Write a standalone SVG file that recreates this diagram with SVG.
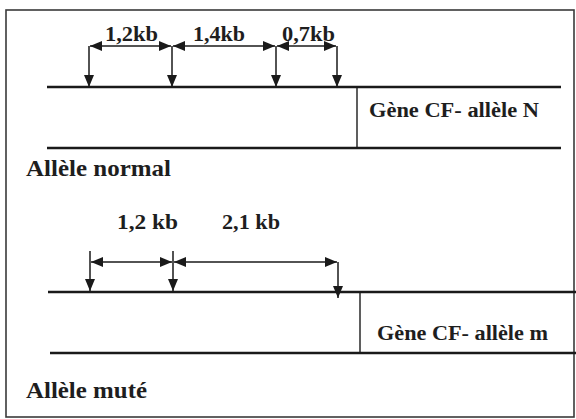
<svg xmlns="http://www.w3.org/2000/svg" width="576" height="419" viewBox="0 0 576 419">
  <defs>
    <marker id="tri" viewBox="0 0 12 10" refX="12" refY="5" markerWidth="12" markerHeight="10" markerUnits="userSpaceOnUse" orient="auto-start-reverse">
      <path d="M0,0 L12,5 L0,10 z" fill="#1a1a1a"/>
    </marker>
    <style>
      .frame { fill: #ffffff; stroke: #3a3a3a; stroke-width: 1.6; }
      .dna { stroke: #1a1a1a; stroke-width: 2.6; fill: none; }
      .sep { stroke: #1a1a1a; stroke-width: 1.4; fill: none; }
      .tick { stroke: #1a1a1a; stroke-width: 1.5; fill: none; marker-end: url(#tri); }
      .dim { stroke: #1a1a1a; stroke-width: 1.5; fill: none; marker-start: url(#tri); marker-end: url(#tri); }
      .lbl { font-family: "Liberation Serif", "Times New Roman", serif; font-weight: bold; fill: #1e1e1e; }
      .s19 { font-size: 20px; }
      .s22 { font-size: 23px; }
    </style>
  </defs>

  <rect class="frame" x="6" y="10" width="568" height="407"/>

  <!-- normal allele -->
  <g id="allele-normal">
    <line class="dna" x1="47" y1="87" x2="561" y2="87"/>
    <line class="dna" x1="47" y1="148" x2="561" y2="148"/>
    <line class="sep" x1="357" y1="87" x2="357" y2="148"/>
    <text class="lbl s19" x="369" y="117" textLength="170" lengthAdjust="spacingAndGlyphs">Gène CF- allèle N</text>
    <text class="lbl s22" x="26" y="176" textLength="145" lengthAdjust="spacingAndGlyphs">Allèle normal</text>
  </g>

  <!-- mutated allele -->
  <g id="allele-mute">
    <line class="dna" x1="48" y1="292" x2="576" y2="292"/>
    <line class="dna" x1="50" y1="353" x2="576" y2="353"/>
    <line class="sep" x1="360" y1="292" x2="360" y2="353"/>
    <text class="lbl s19" x="377" y="340" textLength="171" lengthAdjust="spacingAndGlyphs">Gène CF- allèle m</text>
    <text class="lbl s22" x="26" y="398" textLength="121" lengthAdjust="spacingAndGlyphs">Allèle muté</text>
  </g>

  <!-- restriction sites and fragment lengths -->
  <g id="connectors">
    <!-- normal allele sites -->
    <line class="tick" x1="89" y1="46" x2="89" y2="87"/>
    <line class="tick" x1="172" y1="46" x2="172" y2="87"/>
    <line class="tick" x1="276" y1="46" x2="276" y2="87"/>
    <line class="tick" x1="337" y1="46" x2="337" y2="87"/>
    <line class="dim" x1="90" y1="46" x2="171" y2="46"/>
    <line class="dim" x1="173" y1="46" x2="275" y2="46"/>
    <line class="dim" x1="277" y1="46" x2="336" y2="46"/>

    <!-- mutated allele sites -->
    <line class="tick" x1="90" y1="251" x2="90" y2="291"/>
    <line class="tick" x1="173" y1="251" x2="173" y2="291"/>
    <line class="tick" x1="338" y1="262" x2="338" y2="298"/>
    <line class="dim" x1="91" y1="262" x2="172" y2="262"/>
    <line class="dim" x1="174" y1="262" x2="337" y2="262"/>
  </g>

  <g id="fragment-labels">
    <text class="lbl s19" x="105" y="41" textLength="53" lengthAdjust="spacingAndGlyphs">1,2kb</text>
    <text class="lbl s19" x="193" y="41" textLength="52" lengthAdjust="spacingAndGlyphs">1,4kb</text>
    <text class="lbl s19" x="282" y="41" textLength="53" lengthAdjust="spacingAndGlyphs">0,7kb</text>
    <text class="lbl s19" x="117" y="229" textLength="61" lengthAdjust="spacingAndGlyphs">1,2 kb</text>
    <text class="lbl s19" x="222" y="229" textLength="58" lengthAdjust="spacingAndGlyphs">2,1 kb</text>
  </g>
</svg>
